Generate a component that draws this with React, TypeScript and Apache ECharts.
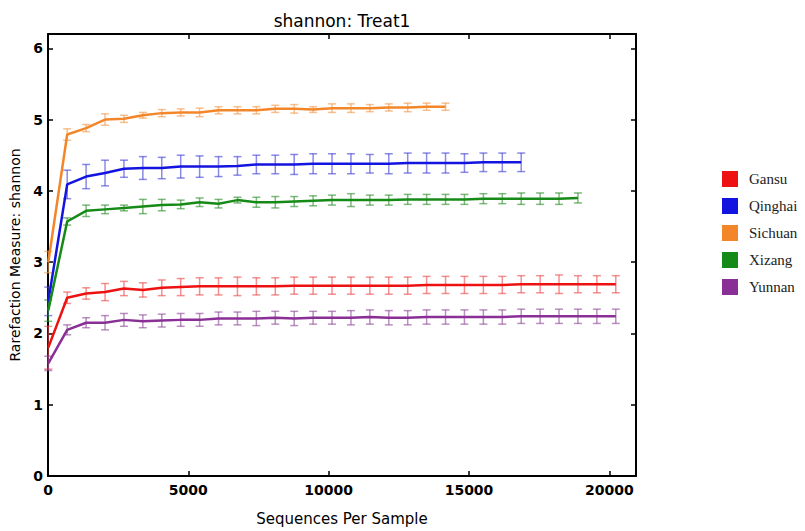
import React, { useEffect, useRef } from 'react';
import * as echarts from 'echarts';

const depths = [10, 684, 1358, 2032, 2706, 3380, 4054, 4728, 5402, 6076, 6750, 7424, 8098, 8772, 9446, 10120, 10794, 11468, 12142, 12816, 13490, 14164, 14838, 15512, 16186, 16860, 17534, 18208, 18882, 19556, 20230];

const seriesNames = ['Gansu', 'Qinghai', 'Sichuan', 'Xizang', 'Yunnan'];
const seriesColors = ['#ee1111', '#1414e0', '#f4862a', '#168a16', '#8a2f96'];
const errColors = ['rgba(238,70,70,0.6)', 'rgba(60,60,215,0.6)', 'rgba(240,150,70,0.6)', 'rgba(40,140,40,0.6)', 'rgba(140,70,150,0.6)'];

const gansuMean = [1.80, 2.50, 2.56, 2.58, 2.63, 2.61, 2.64, 2.65, 2.66, 2.66, 2.66, 2.66, 2.66, 2.67, 2.67, 2.67, 2.67, 2.67, 2.67, 2.67, 2.68, 2.68, 2.68, 2.68, 2.68, 2.69, 2.69, 2.69, 2.69, 2.69, 2.69];
const gansuErr = [0.3, 0.08, 0.08, 0.12, 0.1, 0.1, 0.11, 0.12, 0.12, 0.12, 0.13, 0.12, 0.12, 0.12, 0.12, 0.12, 0.12, 0.12, 0.12, 0.12, 0.12, 0.12, 0.12, 0.12, 0.12, 0.12, 0.12, 0.13, 0.12, 0.12, 0.12];

const qinghaiMean = [2.45, 4.09, 4.20, 4.25, 4.31, 4.32, 4.32, 4.34, 4.34, 4.34, 4.35, 4.37, 4.37, 4.37, 4.38, 4.38, 4.38, 4.38, 4.38, 4.39, 4.39, 4.39, 4.39, 4.40, 4.40, 4.40];
const qinghaiErr = [0.2, 0.2, 0.17, 0.18, 0.12, 0.16, 0.15, 0.16, 0.15, 0.14, 0.13, 0.13, 0.13, 0.14, 0.14, 0.14, 0.14, 0.13, 0.14, 0.14, 0.14, 0.14, 0.13, 0.13, 0.13, 0.13];

const sichuanMean = [3.00, 4.79, 4.88, 5.00, 5.01, 5.06, 5.09, 5.10, 5.10, 5.13, 5.13, 5.13, 5.15, 5.15, 5.14, 5.16, 5.16, 5.16, 5.17, 5.17, 5.18, 5.18];
const sichuanErr = [0.15, 0.08, 0.05, 0.08, 0.05, 0.04, 0.05, 0.05, 0.06, 0.05, 0.05, 0.05, 0.05, 0.06, 0.04, 0.06, 0.06, 0.05, 0.05, 0.06, 0.05, 0.05];

const xizangMean = [2.32, 3.57, 3.72, 3.74, 3.76, 3.78, 3.80, 3.81, 3.84, 3.82, 3.87, 3.84, 3.84, 3.85, 3.86, 3.87, 3.87, 3.87, 3.87, 3.88, 3.88, 3.88, 3.88, 3.89, 3.89, 3.89, 3.89, 3.89, 3.90];
const xizangErr = [0.15, 0.05, 0.08, 0.06, 0.04, 0.1, 0.08, 0.06, 0.06, 0.06, 0.04, 0.07, 0.08, 0.07, 0.07, 0.07, 0.09, 0.07, 0.07, 0.07, 0.07, 0.07, 0.07, 0.07, 0.07, 0.08, 0.08, 0.08, 0.07];

const yunnanMean = [1.58, 2.05, 2.15, 2.15, 2.19, 2.17, 2.18, 2.19, 2.19, 2.21, 2.21, 2.21, 2.22, 2.21, 2.22, 2.22, 2.22, 2.23, 2.22, 2.22, 2.23, 2.23, 2.23, 2.23, 2.23, 2.24, 2.24, 2.24, 2.24, 2.24, 2.24];
const yunnanErr = [0.1, 0.07, 0.07, 0.1, 0.09, 0.09, 0.09, 0.09, 0.09, 0.09, 0.09, 0.1, 0.09, 0.1, 0.09, 0.09, 0.1, 0.1, 0.1, 0.1, 0.1, 0.1, 0.1, 0.1, 0.1, 0.1, 0.1, 0.1, 0.1, 0.1, 0.1];

const allMeans = [gansuMean, qinghaiMean, sichuanMean, xizangMean, yunnanMean];
const allErrs = [gansuErr, qinghaiErr, sichuanErr, xizangErr, yunnanErr];

const yTicks = [0, 1, 2, 3, 4, 5, 6];
const xTicks = [0, 5000, 10000, 15000, 20000];

const X_MAX = 20950;
const Y_MAX = 6.2;

export default function App() {
  const ref = useRef<HTMLDivElement>(null);
  useEffect(() => {
    if (!ref.current) return;
    const chart = echarts.init(ref.current, null, { renderer: 'svg' });

    const lineSeries = seriesNames.map((name, i) => ({
      name,
      type: 'line',
      data: allMeans[i].map((v, k) => [depths[k], v]),
      showSymbol: false,
      symbol: 'none',
      lineStyle: { color: seriesColors[i], width: 2.5 },
      itemStyle: { color: seriesColors[i] },
      z: 5,
    }));

    const errSeries = seriesNames.map((name, i) => ({
      name: name + ' err',
      type: 'custom',
      clip: false,
      z: 3,
      data: allMeans[i].map((v, k) => [depths[k], v, v - allErrs[i][k], v + allErrs[i][k]]),
      renderItem: (params: any, api: any) => {
        const x = api.value(0);
        const lo = api.coord([x, api.value(2)]);
        const hi = api.coord([x, api.value(3)]);
        const cw = 4;
        const style = { stroke: errColors[i], lineWidth: 1.5 };
        return {
          type: 'group',
          children: [
            { type: 'line', shape: { x1: lo[0], y1: lo[1], x2: hi[0], y2: hi[1] }, style },
            { type: 'line', shape: { x1: lo[0] - cw, y1: lo[1], x2: lo[0] + cw, y2: lo[1] }, style },
            { type: 'line', shape: { x1: hi[0] - cw, y1: hi[1], x2: hi[0] + cw, y2: hi[1] }, style },
          ],
        };
      },
    }));

    const axisLine = { show: true, onZero: false, lineStyle: { color: '#000', width: 2 } };
    const axisTick = { show: true, inside: true, length: 5, lineStyle: { color: '#000', width: 1.5 } };

    chart.setOption({
      animation: false,
      backgroundColor: '#fff',
      grid: { left: 48, right: 169, top: 34, bottom: 42, containLabel: false },
      graphic: [
        {
          type: 'text',
          x: 342,
          y: 21,
          style: {
            text: 'shannon: Treat1',
            align: 'center',
            verticalAlign: 'middle',
            font: '17px "DejaVu Sans"',
            fill: '#000',
          },
        },
      ],
      legend: {
        orient: 'vertical',
        left: 717,
        top: 166,
        icon: 'rect',
        itemWidth: 16,
        itemHeight: 16,
        itemGap: 11,
        data: seriesNames,
        textStyle: { fontFamily: '"Liberation Serif", "DejaVu Serif", serif', fontSize: 15, color: '#222', padding: [0, 0, 0, 6] },
      },
      xAxis: [
        {
          type: 'value',
          min: 0,
          max: X_MAX,
          interval: 5000,
          position: 'bottom',
          name: 'Sequences Per Sample',
          nameLocation: 'middle',
          nameGap: 35,
          nameTextStyle: { fontFamily: '"DejaVu Sans"', fontSize: 15, color: '#000' },
          axisLine,
          axisTick,
          splitLine: { show: false },
          axisLabel: {
            margin: 7,
            fontFamily: '"DejaVu Sans"',
            fontWeight: 'bold',
            fontSize: 14,
            color: '#000',
            formatter: (v: number) => (xTicks.includes(v) ? String(v) : ''),
          },
        },
        {
          type: 'value',
          min: 0,
          max: X_MAX,
          interval: 5000,
          position: 'top',
          axisLine,
          axisTick,
          splitLine: { show: false },
          axisLabel: { show: false },
        },
      ],
      yAxis: [
        {
          type: 'value',
          min: 0,
          max: Y_MAX,
          interval: 1,
          position: 'left',
          name: 'Rarefaction Measure: shannon',
          nameLocation: 'middle',
          nameGap: 22,
          nameTextStyle: { fontFamily: '"DejaVu Sans"', fontSize: 14, color: '#000' },
          axisLine,
          axisTick,
          splitLine: { show: false },
          axisLabel: {
            margin: 5,
            fontFamily: '"DejaVu Sans"',
            fontWeight: 'bold',
            fontSize: 14,
            color: '#000',
            formatter: (v: number) => (yTicks.includes(v) ? String(v) : ''),
          },
        },
        {
          type: 'value',
          min: 0,
          max: Y_MAX,
          interval: 1,
          position: 'right',
          axisLine,
          axisTick,
          splitLine: { show: false },
          axisLabel: { show: false },
        },
      ],
      series: [...errSeries, ...lineSeries],
    });
    return () => chart.dispose();
  }, []);
  return <div ref={ref} style={{ width: 805, height: 531, position: 'absolute', left: 0, top: 0 }} />;
}
